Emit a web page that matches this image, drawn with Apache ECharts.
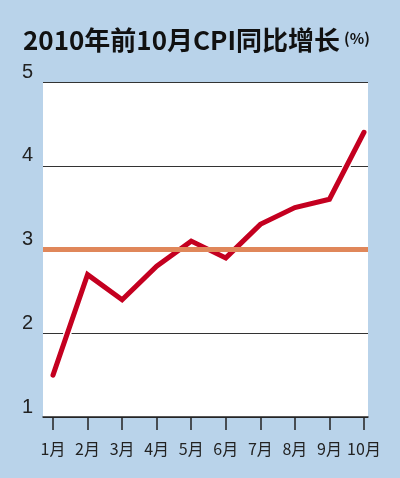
<!DOCTYPE html>
<html>
<head>
<meta charset="utf-8">
<script src="https://cdn.jsdelivr.net/npm/echarts@6/dist/echarts.min.js"></script>
<style>
  html, body { margin: 0; padding: 0; background: #b9d3ea; }
  #eChart { width: 400px; height: 478px; }
</style>
</head>
<body>
<div id="eChart"></div>
<script>
// 月份和CPI同比数据
var months = ['1月', '2月', '3月', '4月', '5月', '6月', '7月', '8月', '9月', '10月'];
var cpiValues = [1.5, 2.7, 2.4, 2.8, 3.1, 2.9, 3.3, 3.5, 3.6, 4.4];
var refLevel = 3;
var yTicks = [1, 2, 3, 4, 5];

var myChart = echarts.init(document.getElementById('eChart'));
var option = {
  backgroundColor: '#b9d3ea',
  animation: false,
  title: {
    text: '{t|2010年前10月CPI同比增长}{u|(%)}',
    left: 18,
    top: 22,
    textStyle: {
      rich: {
        t: { fontSize: 26, fontWeight: 'bold', color: '#111', fontFamily: 'Noto Sans CJK SC' },
        u: { fontSize: 15, color: '#111', fontFamily: 'Noto Sans CJK SC', padding: [0, 0, 4, 4] }
      }
    }
  },
  grid: [
    // 白色背景区域
    { left: 43, right: 32, top: 82, bottom: 61, show: true, backgroundColor: '#fff', borderWidth: 0 },
    // 数据区域
    { left: 53, right: 36, top: 82, bottom: 61 }
  ],
  xAxis: [
    {
      gridIndex: 0, type: 'value', min: 0, max: 1,
      axisLine: { show: true, lineStyle: { color: '#222', width: 1.5 } },
      axisTick: { show: false },
      axisLabel: { show: false },
      splitLine: { show: false }
    },
    {
      gridIndex: 1,
      type: 'category',
      boundaryGap: false,
      data: months,
      axisLine: { show: false },
      axisTick: { show: true, length: 13, interval: 0, lineStyle: { color: '#222', width: 1.5 } },
      axisLabel: {
        interval: 0, hideOverlap: false, margin: 24, fontSize: 16,
        color: '#222', fontFamily: 'Noto Sans CJK SC'
      }
    }
  ],
  yAxis: [
    {
      gridIndex: 0,
      type: 'value',
      min: yTicks[0],
      max: yTicks[yTicks.length - 1],
      interval: 1,
      axisLine: { show: false },
      axisTick: { show: false },
      axisLabel: { margin: 10, fontSize: 20, color: '#222', verticalAlign: 'bottom', fontFamily: 'Liberation Sans' },
      splitLine: { show: true, lineStyle: { color: '#333', width: 1.2 } }
    },
    {
      gridIndex: 1,
      type: 'value',
      min: yTicks[0],
      max: yTicks[yTicks.length - 1],
      show: false
    }
  ],
  series: [
    {
      type: 'line',
      xAxisIndex: 0,
      yAxisIndex: 0,
      data: [],
      silent: true,
      markLine: {
        symbol: 'none',
        label: { show: false },
        lineStyle: { color: '#e0875a', width: 5, type: 'solid' },
        data: [{ yAxis: refLevel }]
      }
    },
    {
      // 白色描边
      type: 'line',
      xAxisIndex: 1,
      yAxisIndex: 1,
      data: cpiValues,
      symbol: 'none',
      lineStyle: { color: '#fff', width: 8, cap: 'round', join: 'miter' }
    },
    {
      type: 'line',
      xAxisIndex: 1,
      yAxisIndex: 1,
      data: cpiValues,
      symbol: 'none',
      lineStyle: { color: '#c40020', width: 5, cap: 'round', join: 'miter' }
    }
  ]
};
myChart.setOption(option);
</script>
</body>
</html>
